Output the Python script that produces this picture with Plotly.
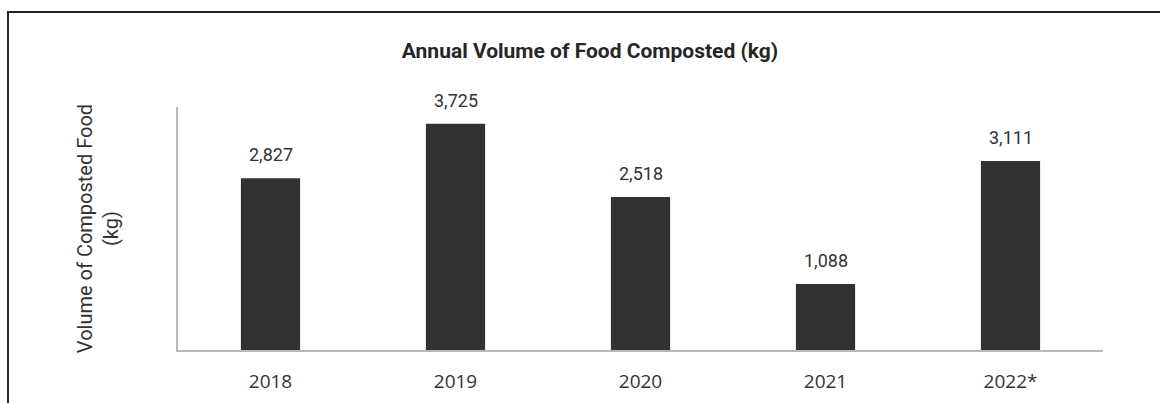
import plotly.graph_objects as go

years = ["2018", "2019", "2020", "2021", "2022*"]
composted_kg = [2827, 3725, 2518, 1088, 3111]

W, H = 1160, 403
L, R, T, B = 178, 57, 107, 53
PW, PH = W - L - R, H - T - B

NARROW = "Roboto, sans-serif"
BAR = "#333132"
AXIS = "#b8b8b8"
INK = "#262626"


def px(x):
    return (x - L) / PW


def py(y):
    return (H - B - y) / PH


fig = go.Figure(
    go.Bar(
        x=years,
        y=composted_kg,
        marker=dict(color=BAR, line=dict(width=0)),
        hoverinfo="skip",
    )
)

# value labels above each bar (category index used as x position)
for i, v in enumerate(composted_kg):
    fig.add_annotation(
        x=i, y=v, xref="x", yref="y",
        text=f"{v:,}", showarrow=False,
        yanchor="bottom", yshift=11,
        font=dict(family=NARROW, size=18, color="#333333"),
    )

# outer frame (top and left edges visible)
fig.add_shape(
    type="rect", xref="paper", yref="paper",
    x0=px(8), x1=px(W + 20), y0=py(12), y1=py(H + 20),
    line=dict(color=INK, width=2), fillcolor="rgba(0,0,0,0)",
    layer="below",
)

fig.update_layout(
    width=W, height=H,
    margin=dict(l=L, r=R, t=T, b=B, autoexpand=False),
    paper_bgcolor="white", plot_bgcolor="white",
    bargap=0.68,
    showlegend=False,
    title=dict(
        text="<b>Annual Volume of Food Composted (kg)</b>",
        x=(590) / W, xref="container", xanchor="center",
        y=1 - 51 / H, yref="container", yanchor="middle",
        font=dict(family=NARROW, size=21, color=INK),
    ),
    xaxis=dict(
        type="category", range=[-0.5, len(years) - 0.5],
        automargin=False,
        showline=True, linecolor=AXIS, linewidth=1.5,
        ticks="", showgrid=False, zeroline=False,
        ticklabelstandoff=13,
        tickfont=dict(family="Open Sans, sans-serif", size=19, color="#333333"),
    ),
    yaxis=dict(
        range=[0, 4000],
        automargin=False,
        showline=True, linecolor=AXIS, linewidth=1.5,
        showticklabels=False, ticks="", showgrid=False, zeroline=False,
        title=dict(
            text="Volume of Composted Food<br>(kg)",
            font=dict(family=NARROW, size=20, color="#333333"),
            standoff=52,
        ),
    ),
)

fig.write_html("out.html")
